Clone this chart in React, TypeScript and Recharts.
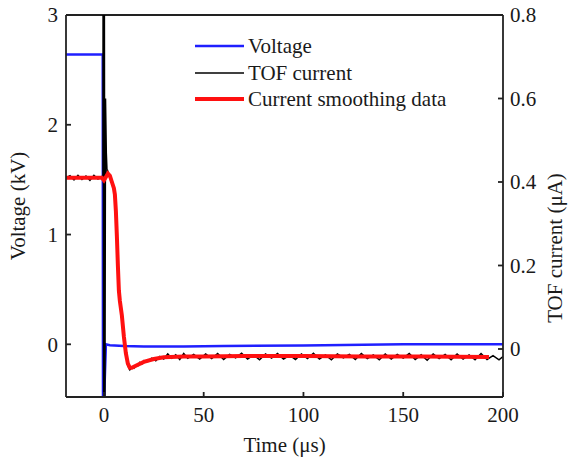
import React from 'react';
import { LineChart, Line, XAxis, YAxis, Legend, ReferenceLine } from 'recharts';

// ---- Data ----
const xTicks = [0, 50, 100, 150, 200];
const voltageTicks = [0, 1, 2, 3];
const currentTicks = [0, 0.2, 0.4, 0.6, 0.8];

// Voltage (kV), left axis
const voltageTime = [-19, -0.6, -0.45, 1, 3, 10, 20, 40, 60, 100, 150, 200];
const voltageKV = [2.64, 2.64, -0.8, 0.0, -0.008, -0.015, -0.02, -0.02, -0.016, -0.01, 0.0, 0.0];

// TOF current (µA), right axis – raw signal
const tofTime = [
  -19, -17, -15, -13, -11, -9, -7, -5, -3, -1, -0.5, -0.4, -0.1, 0.2, 0.5, 0.8, 1.2, 1.6, 2, 3, 4, 5, 5.5, 6, 6.5,
  7, 7.5, 8, 9, 10, 11, 12, 13, 14, 15, 16, 17, 18, 19, 20, 22, 24, 26, 28, 30, 32, 34, 36, 38, 40, 42, 45, 48, 51,
  54, 57, 60, 63, 66, 69, 72, 75, 78, 81, 84, 87, 90, 93, 96, 99, 102, 105, 108, 111, 114, 117, 120, 123, 126, 129,
  132, 135, 138, 141, 144, 147, 150, 153, 156, 159, 162, 165, 168, 171, 174, 177, 180, 183, 186, 189, 192, 195, 198,
  200,
];
const tofCurrent = [
  0.41, 0.415, 0.405, 0.416, 0.406, 0.414, 0.404, 0.416, 0.407, 0.413, 0.41, 0.95, -0.2, 0.95, -0.2, 0.6, 0.47,
  0.42, 0.425, 0.41, 0.405, 0.385, 0.37, 0.33, 0.275, 0.2, 0.145, 0.11, 0.085, 0.03, -0.015, -0.04, -0.05, -0.044,
  -0.046, -0.038, -0.04, -0.032, -0.036, -0.028, -0.03, -0.022, -0.028, -0.018, -0.024, -0.012, -0.022, -0.014,
  -0.025, -0.011, -0.022, -0.013, -0.024, -0.012, -0.023, -0.011, -0.025, -0.013, -0.021, -0.01, -0.024, -0.014,
  -0.026, -0.012, -0.022, -0.011, -0.024, -0.015, -0.025, -0.012, -0.023, -0.01, -0.024, -0.014, -0.026, -0.012,
  -0.021, -0.013, -0.025, -0.011, -0.023, -0.014, -0.026, -0.012, -0.024, -0.013, -0.022, -0.011, -0.025, -0.014,
  -0.027, -0.012, -0.023, -0.013, -0.026, -0.012, -0.024, -0.014, -0.026, -0.011, -0.025, -0.016, -0.026, -0.018,
];

// Current smoothing data (µA), right axis
const smoothTime = [
  -19, -10, -1, 0, 1, 2, 3, 4, 5, 5.5, 6, 6.5, 7, 7.5, 8, 9, 10, 11, 12, 13, 14, 16, 20, 25, 30, 40, 50, 70, 100,
  130, 160, 193,
];
const smoothCurrent = [
  0.41, 0.41, 0.41, 0.404, 0.412, 0.42, 0.415, 0.4, 0.385, 0.37, 0.33, 0.27, 0.2, 0.14, 0.115, 0.08, 0.03, -0.01,
  -0.035, -0.045, -0.045, -0.04, -0.031, -0.024, -0.02, -0.018, -0.018, -0.017, -0.017, -0.018, -0.018, -0.019,
];

const toRows = (ts: number[], vs: number[]) => ts.map((t, i) => ({ t, v: vs[i] }));
const voltageData = toRows(voltageTime, voltageKV);
const tofData = toRows(tofTime, tofCurrent);
const smoothData = toRows(smoothTime, smoothCurrent);

const FONT = '"Liberation Serif", "Times New Roman", serif';
const TEXT = '#1a1a1a';
const AXIS = '#222';
const FS = 21;

const legendItems = [
  { name: 'Voltage', color: '#1f1fff', width: 2.5 },
  { name: 'TOF current', color: '#000000', width: 1.5 },
  { name: 'Current smoothing data', color: '#ff1010', width: 4 },
];

const LegendBox = () => (
  <div style={{ fontFamily: FONT, fontSize: FS, color: TEXT }}>
    {legendItems.map((it) => (
      <div key={it.name} style={{ display: 'flex', alignItems: 'center', height: 26.5 }}>
        <svg width={53} height={10} style={{ display: 'block' }}>
          <line x1={0} x2={49} y1={5} y2={5} stroke={it.color} strokeWidth={it.width} />
        </svg>
        <span style={{ lineHeight: '22px', whiteSpace: 'nowrap' }}>{it.name}</span>
      </div>
    ))}
  </div>
);

const AxisTitle = (props: any) => {
  const { viewBox, text, side } = props;
  if (!viewBox) return null;
  const cy = viewBox.y + viewBox.height / 2;
  if (side === 'left') {
    const x = viewBox.x + 25;
    return (
      <text x={x} y={cy} transform={`rotate(-90 ${x} ${cy})`} textAnchor="middle" fontFamily={FONT} fontSize={FS} fill={TEXT}>
        {text}
      </text>
    );
  }
  if (side === 'right') {
    const x = viewBox.x + viewBox.width - 7;
    const y = cy + 42;
    return (
      <text x={x} y={y} transform={`rotate(-90 ${x} ${y})`} textAnchor="middle" fontFamily={FONT} fontSize={FS} fill={TEXT}>
        {text}
      </text>
    );
  }
  const x = viewBox.x + viewBox.width / 2;
  const y = viewBox.y + viewBox.height - 7;
  return (
    <text x={x} y={y} textAnchor="middle" fontFamily={FONT} fontSize={FS} fill={TEXT}>
      {text}
    </text>
  );
};

const tickStyle = { fontFamily: FONT, fontSize: FS, fill: TEXT };

export default function App() {
  return (
    <div style={{ position: 'absolute', left: 0, top: 0, width: 569, height: 459, background: '#fff' }}>
      <LineChart width={569} height={459} margin={{ top: 15, right: 0, bottom: 0, left: 0 }}>
        <XAxis
          type="number"
          dataKey="t"
          domain={[-19, 200]}
          ticks={xTicks}
          allowDataOverflow
          height={62}
          tickSize={-5}
          tickMargin={15}
          tick={tickStyle}
          stroke={AXIS}
          strokeWidth={1.8}
          label={<AxisTitle text="Time (μs)" side="bottom" />}
        />
        <YAxis
          yAxisId="left"
          type="number"
          domain={[-0.48, 3]}
          ticks={voltageTicks}
          allowDataOverflow
          width={66}
          tickSize={-5}
          tickMargin={13}
          tick={tickStyle}
          stroke={AXIS}
          strokeWidth={1.8}
          label={<AxisTitle text="Voltage (kV)" side="left" />}
        />
        <YAxis
          yAxisId="right"
          orientation="right"
          type="number"
          domain={[-0.115, 0.8]}
          ticks={currentTicks}
          allowDataOverflow
          width={66}
          tickSize={-5}
          tickMargin={12}
          tick={tickStyle}
          tickFormatter={(v: number) => (v === 0 ? '0' : String(v))}
          stroke={AXIS}
          strokeWidth={1.8}
          label={<AxisTitle text="TOF current (μA)" side="right" />}
        />
        <ReferenceLine yAxisId="left" y={3} stroke={AXIS} strokeWidth={1.8} ifOverflow="visible" />
        <Line
          yAxisId="left"
          data={voltageData}
          dataKey="v"
          name="Voltage"
          stroke="#1f1fff"
          strokeWidth={2.5}
          dot={false}
          type="linear"
          isAnimationActive={false}
        />
        <Line
          yAxisId="right"
          data={tofData}
          dataKey="v"
          name="TOF current"
          stroke="#000000"
          strokeWidth={1.5}
          dot={false}
          type="linear"
          isAnimationActive={false}
        />
        <Line
          yAxisId="right"
          data={smoothData}
          dataKey="v"
          name="Current smoothing data"
          stroke="#ff1010"
          strokeWidth={4}
          dot={false}
          type="linear"
          isAnimationActive={false}
        />
        <Legend
          layout="horizontal"
          verticalAlign="middle"
          align="center"
          content={<LegendBox />}
          wrapperStyle={{ left: 195, top: 33, width: 'auto', height: 'auto' }}
        />
      </LineChart>
    </div>
  );
}
